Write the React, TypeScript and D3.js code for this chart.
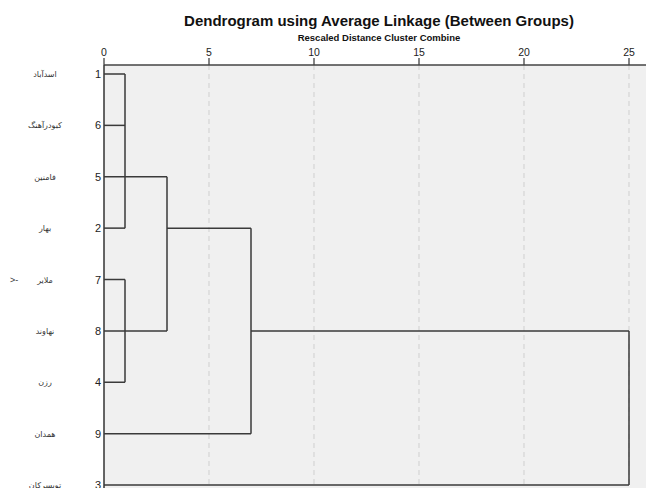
import React, { useRef, useEffect } from "react";
import * as d3 from "d3";

// leaf order as drawn, top to bottom
const caseLabels = ["اسدآباد", "کبودرآهنگ", "فامنین", "بهار", "ملایر", "نهاوند", "رزن", "همدان", "تویسرکان"];
const caseNumbers = ["1", "6", "5", "2", "7", "8", "4", "9", "3"];
const distTicks = [0, 5, 10, 15, 20, 25];

// horizontal links: [row, from distance, to distance]
const hLinks: [string, number, number][] = [
  ["1", 0, 1],
  ["6", 0, 1],
  ["5", 0, 3],
  ["2", 0, 1],
  ["2", 3, 7],
  ["7", 0, 1],
  ["8", 0, 3],
  ["8", 7, 25],
  ["4", 0, 1],
  ["9", 0, 7],
  ["3", 0, 25],
];

// vertical links: [distance, from row, to row]
const vLinks: [number, string, string][] = [
  [1, "1", "2"],
  [1, "7", "4"],
  [3, "5", "8"],
  [7, "2", "9"],
  [25, "8", "3"],
];

const App: React.FC = () => {
  const svgRef = useRef<SVGSVGElement | null>(null);
  const width = 646;
  const height = 488;

  useEffect(() => {
    if (!svgRef.current) return;
    const svg = d3.select(svgRef.current);
    svg.selectAll("*").remove();

    const left = 104;
    const top = 65;
    const font = "'Liberation Sans', Arial, sans-serif";

    const x = d3.scaleLinear().domain([0, 25]).range([left, 629]);
    const y = d3.scalePoint<string>().domain(caseNumbers).range([74, 485]);

    // plot background
    svg
      .append("rect")
      .attr("x", left)
      .attr("y", top)
      .attr("width", width - left)
      .attr("height", height - top)
      .attr("fill", "#f0f0f0");

    // grid
    svg
      .append("g")
      .selectAll("line")
      .data(distTicks.filter((d) => d > 0))
      .enter()
      .append("line")
      .attr("x1", (d) => x(d))
      .attr("x2", (d) => x(d))
      .attr("y1", top)
      .attr("y2", height)
      .attr("stroke", "#cfcfcf")
      .attr("stroke-dasharray", "5,4");

    // top axis
    const axis = svg.append("g").attr("transform", `translate(0,${top})`);
    axis
      .append("line")
      .attr("x1", left)
      .attr("x2", width)
      .attr("stroke", "#444")
      .attr("stroke-width", 1.5);
    axis
      .selectAll(".tick")
      .data(distTicks)
      .enter()
      .append("line")
      .attr("x1", (d) => x(d))
      .attr("x2", (d) => x(d))
      .attr("y1", -7)
      .attr("y2", 0)
      .attr("stroke", "#444")
      .attr("stroke-width", 1.3);
    axis
      .selectAll(".tlabel")
      .data(distTicks)
      .enter()
      .append("text")
      .attr("x", (d) => x(d))
      .attr("y", -9)
      .attr("text-anchor", "middle")
      .attr("font-family", font)
      .attr("font-size", 10.5)
      .attr("fill", "#222")
      .text((d) => d);

    // left axis line
    svg
      .append("line")
      .attr("x1", left)
      .attr("x2", left)
      .attr("y1", top)
      .attr("y2", height)
      .attr("stroke", "#333")
      .attr("stroke-width", 1.5);

    // titles
    svg
      .append("text")
      .attr("x", 379)
      .attr("y", 26)
      .attr("text-anchor", "middle")
      .attr("font-family", font)
      .attr("font-weight", "bold")
      .attr("font-size", 15)
      .attr("fill", "#111")
      .text("Dendrogram using Average Linkage (Between Groups)");
    svg
      .append("text")
      .attr("x", 379)
      .attr("y", 41)
      .attr("text-anchor", "middle")
      .attr("font-family", font)
      .attr("font-weight", "bold")
      .attr("font-size", 9.5)
      .attr("fill", "#111")
      .text("Rescaled Distance Cluster Combine");

    // case numbers and labels
    svg
      .append("g")
      .selectAll("text")
      .data(caseNumbers)
      .enter()
      .append("text")
      .attr("x", left - 3)
      .attr("y", (d) => y(d)! + 4)
      .attr("text-anchor", "end")
      .attr("font-family", font)
      .attr("font-size", 11)
      .attr("fill", "#222")
      .text((d) => d);
    svg
      .append("g")
      .selectAll("text")
      .data(caseLabels)
      .enter()
      .append("text")
      .attr("x", 45)
      .attr("y", (_d, i) => y(caseNumbers[i])! + 3)
      .attr("text-anchor", "middle")
      .attr("font-family", "'DejaVu Sans', sans-serif")
      .attr("font-size", 8)
      .attr("fill", "#333")
      .text((d) => d);
    svg
      .append("text")
      .attr("x", 10)
      .attr("y", y("7")! + 3)
      .attr("font-family", font)
      .attr("font-size", 9)
      .attr("fill", "#333")
      .text(">-");

    // dendrogram links
    const links = svg
      .append("g")
      .attr("stroke", "#3a3a3a")
      .attr("stroke-width", 1.5)
      .attr("fill", "none");
    links
      .selectAll(".h")
      .data(hLinks)
      .enter()
      .append("line")
      .attr("x1", (d) => x(d[1]))
      .attr("x2", (d) => x(d[2]))
      .attr("y1", (d) => y(d[0])!)
      .attr("y2", (d) => y(d[0])!);
    links
      .selectAll(".v")
      .data(vLinks)
      .enter()
      .append("line")
      .attr("x1", (d) => x(d[0]))
      .attr("x2", (d) => x(d[0]))
      .attr("y1", (d) => y(d[1])!)
      .attr("y2", (d) => y(d[2])!);
  }, []);

  return (
    <svg
      ref={svgRef}
      width={width}
      height={height}
      style={{ position: "absolute", left: 0, top: 0, background: "#fff" }}
    />
  );
};

export default App;
